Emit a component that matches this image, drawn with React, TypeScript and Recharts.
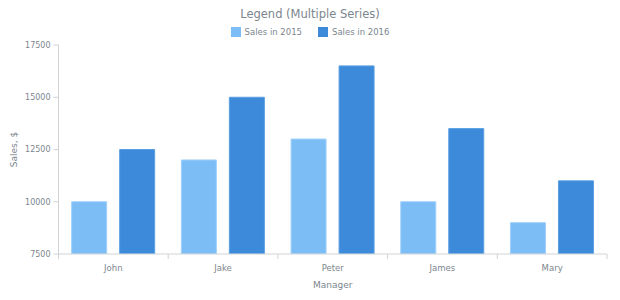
import React from "react";
import { Bar, BarChart, Legend, XAxis, YAxis } from "recharts";

const managers = ["John", "Jake", "Peter", "James", "Mary"];
const sales2015 = [10000, 12000, 13000, 10000, 9000];
const sales2016 = [12500, 15000, 16500, 13500, 11000];
const yTicks = [7500, 10000, 12500, 15000, 17500];

const data = managers.map((name, i) => ({ name, s2015: sales2015[i], s2016: sales2016[i] }));

const TEXT = "#7c868e";
const AXIS = "#cfd3d6";
const FONT = "'DejaVu Sans', Verdana, sans-serif";
const C2015 = "#7dbdf6";
const C2016 = "#3c8ad9";

const W = 620;
const H = 300;
const MARGIN = { top: 45, right: 13, left: 0, bottom: 0 };
const Y_WIDTH = 58.5;

const XTick = (props: any) => {
  const { x, y, payload, index } = props;
  const half = payload?.offset ?? (W - MARGIN.right - Y_WIDTH) / managers.length / 2;
  return (
    <g>
      <line x1={x - half} x2={x - half} y1={y - 8} y2={y - 3} stroke={AXIS} />
      {index === managers.length - 1 && <line x1={x + half} x2={x + half} y1={y - 8} y2={y - 3} stroke={AXIS} />}
      <text x={x} y={y + 9} textAnchor="middle" fill={TEXT} fontSize={8.5} fontFamily={FONT}>
        {payload.value}
      </text>
    </g>
  );
};

const LegendContent = () => (
  <div style={{ display: "flex", justifyContent: "center", gap: 16, fontFamily: FONT, fontSize: 8.5, color: TEXT }}>
    {[
      { label: "Sales in 2015", color: C2015 },
      { label: "Sales in 2016", color: C2016 },
    ].map((it) => (
      <div key={it.label} style={{ display: "flex", alignItems: "center", gap: 4 }}>
        <span style={{ display: "inline-block", width: 10, height: 10, background: it.color }} />
        <span>{it.label}</span>
      </div>
    ))}
  </div>
);

const YLabel = (props: any) => {
  const { viewBox } = props;
  const cx = 14;
  const cy = viewBox.y + viewBox.height / 2;
  return (
    <text x={cx} y={cy} transform={`rotate(-90 ${cx} ${cy})`} textAnchor="middle" dominantBaseline="central" fill={TEXT} fontSize={9} fontFamily={FONT}>
      Sales, $
    </text>
  );
};

export default function App() {
  return (
    <div style={{ position: "absolute", left: 0, top: 0, width: W, height: H, background: "#fff" }}>
      <div
        style={{
          position: "absolute",
          top: 7,
          left: 0,
          width: W,
          textAlign: "center",
          fontFamily: FONT,
          fontSize: 11.5,
          color: TEXT,
        }}
      >
        Legend (Multiple Series)
      </div>
      <BarChart width={W} height={H} data={data} margin={MARGIN} barCategoryGap="12%" barGap={13}>
        <XAxis
          dataKey="name"
          height={46}
          stroke={AXIS}
          tickLine={false}
          tick={<XTick />}
          label={{ value: "Manager", position: "insideBottom", offset: 12, fill: TEXT, fontSize: 9, fontFamily: FONT }}
        />
        <YAxis
          width={Y_WIDTH}
          domain={[7500, 17500]}
          ticks={yTicks}
          allowDataOverflow
          stroke={AXIS}
          tickSize={5}
          tickMargin={3}
          tick={{ fill: TEXT, fontSize: 8, fontFamily: FONT }}
          label={<YLabel />}
        />
        <Legend verticalAlign="middle" align="center" content={<LegendContent />} wrapperStyle={{ top: 27, left: 0, width: W }} />
        <Bar dataKey="s2015" name="Sales in 2015" fill={C2015} stroke="#9fd0fa" strokeWidth={1} isAnimationActive={false} />
        <Bar dataKey="s2016" name="Sales in 2016" fill={C2016} stroke="#5a9fe3" strokeWidth={1} isAnimationActive={false} />
      </BarChart>
    </div>
  );
}
